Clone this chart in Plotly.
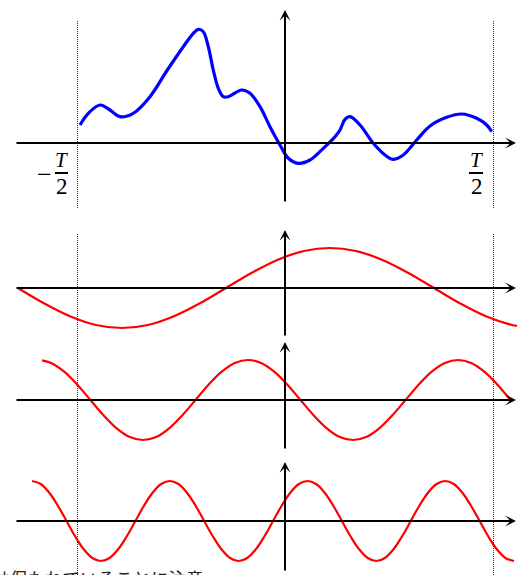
import plotly.graph_objects as go

# x in units of the period T (origin at the vertical axis); y in arbitrary amplitude units
# Panel 1: arbitrary periodic function on [-T/2, T/2]
f_x = [-0.4928, -0.4728, -0.4447, -0.4207, -0.3966, -0.3647, -0.3245, -0.2844, -0.2445, -0.2204,
       -0.2084, -0.1964, -0.1844, -0.1724, -0.1603, -0.1483, -0.1363, -0.1041, -0.0841, -0.0601,
       -0.0361, -0.0120, 0.0079, 0.0320, 0.0601, 0.0921, 0.1202, 0.1322, 0.1442, 0.1562,
       0.1803, 0.2123, 0.2404, 0.2603, 0.2844, 0.3166, 0.3486, 0.3887, 0.4248, 0.4608,
       0.4849, 0.4969]
f_y = [0.18, 0.297, 0.38, 0.33, 0.263, 0.297, 0.463, 0.72, 0.963, 1.097,
       1.137, 1.113, 0.963, 0.73, 0.547, 0.463, 0.463, 0.53, 0.497, 0.363,
       0.163, -0.02, -0.153, -0.203, -0.17, -0.053, 0.063, 0.13, 0.237, 0.263,
       0.18, -0.003, -0.12, -0.163, -0.12, 0.03, 0.17, 0.257, 0.29, 0.247,
       0.18, 0.113]

# Panel 2: fundamental component (period T)
h1_x = [-0.642, -0.5795, -0.517, -0.4545, -0.392, -0.3295, -0.267, -0.2045, -0.142, -0.0795,
        -0.017, 0.0455, 0.108, 0.1705, 0.233, 0.2955, 0.358, 0.4205, 0.483, 0.5455, 0.558]
h1_y = [0.0, -0.153, -0.283, -0.370, -0.40, -0.370, -0.283, -0.153, 0.0, 0.153,
        0.283, 0.370, 0.40, 0.370, 0.283, 0.153, 0.0, -0.153, -0.283, -0.370, -0.380]

# Panel 3: second harmonic (period T/2)
h2_x = [-0.584, -0.5624, -0.5308, -0.4993, -0.4677, -0.4362, -0.4046, -0.3730, -0.3415, -0.3099,
        -0.2784, -0.2468, -0.2152, -0.1837, -0.1521, -0.1206, -0.089, -0.0574, -0.0259, 0.0057,
        0.0372, 0.0688, 0.1004, 0.1319, 0.1635, 0.1950, 0.2266, 0.2582, 0.2897, 0.3213,
        0.3528, 0.3844, 0.4160, 0.4475, 0.4791, 0.5106, 0.5422]
h2_y = [0.397, 0.370, 0.283, 0.153, 0.0, -0.153, -0.283, -0.370, -0.40, -0.370,
        -0.283, -0.153, 0.0, 0.153, 0.283, 0.370, 0.40, 0.370, 0.283, 0.153,
        0.0, -0.153, -0.283, -0.370, -0.40, -0.370, -0.283, -0.153, 0.0, 0.153,
        0.283, 0.370, 0.40, 0.370, 0.283, 0.153, 0.0]

# Panel 4: third harmonic (period T/3)
h3_x = [-0.608, -0.5873, -0.5666, -0.5459, -0.5252, -0.5045, -0.4838, -0.4631, -0.4425, -0.4218,
        -0.4011, -0.3804, -0.3597, -0.3390, -0.3183, -0.2976, -0.2770, -0.2563, -0.2356, -0.2149,
        -0.1942, -0.1735, -0.1528, -0.1321, -0.1115, -0.0908, -0.0701, -0.0494, -0.0287, -0.0080,
        0.0127, 0.0334, 0.0540, 0.0747, 0.0954, 0.1161, 0.1368, 0.1575, 0.1782, 0.1989,
        0.2195, 0.2402, 0.2609, 0.2816, 0.3023, 0.3230, 0.3437, 0.3644, 0.3850, 0.4057,
        0.4264, 0.4471, 0.4678, 0.4885, 0.5092, 0.5299, 0.5505]
h3_y = [0.40, 0.370, 0.283, 0.153, 0.0, -0.153, -0.283, -0.370, -0.40, -0.370,
        -0.283, -0.153, 0.0, 0.153, 0.283, 0.370, 0.40, 0.370, 0.283, 0.153,
        0.0, -0.153, -0.283, -0.370, -0.40, -0.370, -0.283, -0.153, 0.0, 0.153,
        0.283, 0.370, 0.40, 0.370, 0.283, 0.153, 0.0, -0.153, -0.283, -0.370,
        -0.40, -0.370, -0.283, -0.153, 0.0, 0.153, 0.283, 0.370, 0.40, 0.370,
        0.283, 0.153, 0.0, -0.153, -0.283, -0.370, -0.40]

half_period = [-0.5, 0.5]
note_text = "は保たれていることに注意"

W, H = 517, 575
X0_PX, T_PX = 285, 416
xrange_ = [(0 - X0_PX) / T_PX, (W - X0_PX) / T_PX]


def px2x(px):
    return (px - X0_PX) / T_PX


def pdom(top_px, bot_px):
    return [1 - bot_px / H, 1 - top_px / H]


fig = go.Figure()

# panel layout (pixel windows, axis position) -> y axis domains / ranges (1 unit = 100 px)
panels = [
    ("y", 0, 215, 143),
    ("y2", 215, 340, 288),
    ("y3", 340, 455, 400),
    ("y4", 455, 575, 521),
]
layout_axes = {}
for name, top, bot, axis_px in panels:
    key = "yaxis" if name == "y" else "yaxis" + name[1:]
    layout_axes[key] = dict(domain=pdom(top, bot),
                            range=[(axis_px - bot) / 100, (axis_px - top) / 100],
                            visible=False, fixedrange=True)

fig.add_trace(go.Scatter(x=f_x, y=f_y, mode="lines", yaxis="y",
                         line=dict(color="#0000ff", width=3.2, shape="spline", smoothing=1.0)))
fig.add_trace(go.Scatter(x=h1_x, y=h1_y, mode="lines", yaxis="y2",
                         line=dict(color="#ff0000", width=2.2, shape="spline", smoothing=1.0)))
fig.add_trace(go.Scatter(x=h2_x, y=h2_y, mode="lines", yaxis="y3",
                         line=dict(color="#ff0000", width=2.2, shape="spline", smoothing=1.0)))
fig.add_trace(go.Scatter(x=h3_x, y=h3_y, mode="lines", yaxis="y4",
                         line=dict(color="#ff0000", width=2.2, shape="spline", smoothing=1.0)))

# dotted lines at +-T/2 (half-pixel nudge keeps the 1px dots crisp)
nudge = 0.5 / T_PX
shapes = []
for xv in half_period:
    shapes.append(dict(type="line", xref="x", yref="paper", x0=xv + nudge, x1=xv + nudge,
                       y0=1 - 208 / H, y1=1 - 20 / H,
                       line=dict(color="#333333", width=1, dash="1px,1px")))
    shapes.append(dict(type="line", xref="x", yref="paper", x0=xv + nudge, x1=xv + nudge,
                       y0=0, y1=1 - 234 / H,
                       line=dict(color="#333333", width=1, dash="1px,1px")))

annotations = []
# axes with arrows
vert = {"y": (10, 203, 143), "y2": (230, 337, 288), "y3": (342, 450, 400), "y4": (462, 572, 521)}
for name, (tip, bottom, axis_px) in vert.items():
    annotations.append(dict(xref="x", yref=name, axref="x", ayref=name,
                            x=0, y=(axis_px - tip) / 100, ax=0, ay=(axis_px - bottom) / 100,
                            text="", showarrow=True, arrowhead=3, arrowsize=0.9,
                            arrowwidth=2, arrowcolor="black"))
    annotations.append(dict(xref="x", yref=name, axref="x", ayref=name,
                            x=px2x(516), y=0, ax=px2x(15), ay=0,
                            text="", showarrow=True, arrowhead=3, arrowsize=0.9,
                            arrowwidth=2, arrowcolor="black"))

mathfont = dict(family="Liberation Serif", size=21, color="black")
# -T/2 and T/2 labels
annotations += [
    dict(xref="x", yref="y", x=px2x(44), y=(143 - 174) / 100, text="−",
         showarrow=False, font=dict(family="Liberation Serif", size=26, color="black")),
    dict(xref="x", yref="y", x=px2x(61), y=(143 - 160) / 100, text="<i>T</i>",
         showarrow=False, font=mathfont),
    dict(xref="x", yref="y", x=px2x(62), y=(143 - 186) / 100, text="2",
         showarrow=False, font=dict(family="Liberation Serif", size=23, color="black")),
    dict(xref="x", yref="y", x=px2x(476), y=(143 - 160) / 100, text="<i>T</i>",
         showarrow=False, font=mathfont),
    dict(xref="x", yref="y", x=px2x(477), y=(143 - 186) / 100, text="2",
         showarrow=False, font=dict(family="Liberation Serif", size=23, color="black")),
]
for a, b in [(55, 68), (469, 483)]:
    shapes.append(dict(type="line", xref="x", yref="y", x0=px2x(a), x1=px2x(b),
                       y0=(143 - 173) / 100, y1=(143 - 173) / 100,
                       line=dict(color="black", width=2)))

annotations.append(dict(xref="paper", yref="paper", x=-10 / W, y=1 - 563 / H,
                        xanchor="left", yanchor="top", text=note_text, showarrow=False,
                        font=dict(family="Noto Sans CJK JP", size=17.7, color="#222222")))

fig.update_layout(
    width=W, height=H, margin=dict(l=0, r=0, t=0, b=0),
    paper_bgcolor="white", plot_bgcolor="white", showlegend=False,
    xaxis=dict(range=xrange_, visible=False, fixedrange=True),
    shapes=shapes, annotations=annotations,
    **layout_axes,
)

fig.write_html("out.html")
